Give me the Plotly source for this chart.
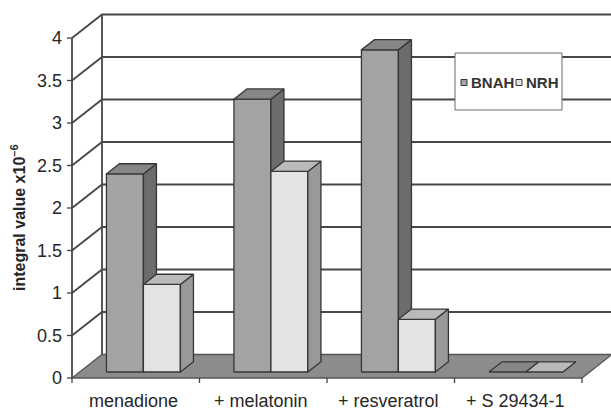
import plotly.graph_objects as go

# ---- data ----
categories = ["menadione", "+ melatonin", "+ resveratrol", "+ S 29434-1"]
series_names = ["BNAH", "NRH"]
bnah = [2.33, 3.21, 3.79, 0.0]
nrh = [1.03, 2.36, 0.62, 0.0]
y_ticks = [0, 0.5, 1, 1.5, 2, 2.5, 3, 3.5, 4]
y_tick_labels = ["0", "0.5", "1", "1.5", "2", "2.5", "3", "3.5", "4"]
y_title = "<b>integral value x10<sup>–6</sup></b>"

# ---- styling ----
W, H = 611, 414
FONT = "Liberation Sans, Arial, sans-serif"
TEXT = "#262626"
EDGE = "#363636"
GRID = "#474747"
FLOOR = "#8c8c8c"
# face colours per series: front, top, side
FACES = [
    ("#a3a3a3", "#868686", "#6c6c6c"),
    ("#e3e3e3", "#bababa", "#999999"),
]

# ---- oblique 3D projection ----
PX_X, PX_Y = 127.5, 85.0          # pixels per category / per value unit
ORIGIN_PX = (72.0, 378.0)         # front-left-bottom corner in pixels
DX = 30.0 / PX_X                  # x shift across the full depth
DY = 23.5 / PX_Y                  # y shift across the full depth
BAR_W = 0.29
D_FRONT, D_BACK = 0.255, 0.69
X0, X1 = -0.5, len(categories) - 0.5
Y_MAX = y_ticks[-1]


def proj(x, v, d):
    return x + d * DX, v + d * DY


def px_to_data(px, py):
    return (px - ORIGIN_PX[0]) / PX_X + X0, (ORIGIN_PX[1] - py) / PX_Y


x_lo, y_hi = px_to_data(0, 0)
x_hi, y_lo = px_to_data(W, H)

fig = go.Figure()


def poly(points, fill, color=EDGE, width=1.3):
    xs = [p[0] for p in points] + [points[0][0]]
    ys = [p[1] for p in points] + [points[0][1]]
    fig.add_trace(go.Scatter(
        x=xs, y=ys, mode="lines", fill="toself", fillcolor=fill,
        line=dict(color=color, width=width), hoverinfo="skip", showlegend=False))


def polyline(segments, color, width):
    xs, ys = [], []
    for seg in segments:
        for p in seg:
            xs.append(p[0])
            ys.append(p[1])
        xs.append(None)
        ys.append(None)
    fig.add_trace(go.Scatter(
        x=xs, y=ys, mode="lines", line=dict(color=color, width=width),
        hoverinfo="skip", showlegend=False))


# walls: gridlines run along the side wall and across the back wall
grid = []
for v in y_ticks[1:]:
    grid.append([proj(X0, v, 0), proj(X0, v, 1), proj(X1, v, 1)])
grid.append([proj(X0, 0, 0), proj(X0, Y_MAX, 0)])
grid.append([proj(X0, 0, 1), proj(X0, Y_MAX, 1)])
polyline(grid, GRID, 1.8)

# floor
poly([proj(X0, 0, 0), proj(X1, 0, 0), proj(X1, 0, 1), proj(X0, 0, 1)],
     FLOOR, color="#555555", width=1.3)

# bars, left to right so each right side is covered by its neighbour
for i in range(len(categories)):
    for s, vals in enumerate([bnah, nrh]):
        v = vals[i]
        xl = i - BAR_W + s * BAR_W
        xr = xl + BAR_W
        front, top, side = FACES[s]
        if v > 0:
            poly([proj(xl, 0, D_FRONT), proj(xr, 0, D_FRONT),
                  proj(xr, v, D_FRONT), proj(xl, v, D_FRONT)], front)
            poly([proj(xr, 0, D_FRONT), proj(xr, 0, D_BACK),
                  proj(xr, v, D_BACK), proj(xr, v, D_FRONT)], side)
            poly([proj(xl, v, D_FRONT), proj(xr, v, D_FRONT),
                  proj(xr, v, D_BACK), proj(xl, v, D_BACK)], top)
        else:
            poly([proj(xl, v, D_FRONT), proj(xr, v, D_FRONT),
                  proj(xr, v, D_BACK), proj(xl, v, D_BACK)], top)

# value-axis tick marks and category tick marks
tick_len_x = 5.0 / PX_X
tick_len_y = 5.0 / PX_Y
ticks = [[(X0 - tick_len_x, v), (X0, v)] for v in y_ticks]
ticks += [[(b, 0), (b, -tick_len_y)] for b in
          [X0 + k for k in range(len(categories) + 1)]]
polyline(ticks, "#444444", 1.3)

annotations = []
for v, lab in zip(y_ticks, y_tick_labels):
    annotations.append(dict(
        x=X0 - 8.0 / PX_X, y=v, xref="x", yref="y", text=lab,
        showarrow=False, xanchor="right", yanchor="middle",
        font=dict(family=FONT, size=18, color=TEXT)))
for i, cat in enumerate(categories):
    annotations.append(dict(
        x=i - 0.02, y=-23.0 / PX_Y, xref="x", yref="y", text=cat,
        showarrow=False, xanchor="center", yanchor="middle",
        font=dict(family=FONT, size=18, color=TEXT)))
annotations.append(dict(
    x=18.0 / W, y=1 - 218.0 / H, xref="paper", yref="paper", text=y_title,
    textangle=-90, showarrow=False, xanchor="center", yanchor="middle",
    font=dict(family=FONT, size=16, color=TEXT)))

# legend box
shapes = [dict(type="rect", xref="paper", yref="paper",
               x0=455 / W, x1=562 / W, y0=1 - 110 / H, y1=1 - 53 / H,
               fillcolor="white", line=dict(color="#6a6a6a", width=1))]
legend_x = [461, 516]
for s, name in enumerate(series_names):
    mx = legend_x[s]
    shapes.append(dict(type="rect", xref="paper", yref="paper",
                       x0=mx / W, x1=(mx + 6) / W,
                       y0=1 - 85.5 / H, y1=1 - 79.5 / H,
                       fillcolor=FACES[s][0], line=dict(color=EDGE, width=1)))
    annotations.append(dict(
        x=(mx + 8) / W, y=1 - 82.5 / H, xref="paper", yref="paper",
        text="<b>" + name + "</b>", showarrow=False, xanchor="left",
        yanchor="middle", font=dict(family=FONT, size=15, color="#333333")))

fig.update_layout(
    width=W, height=H, autosize=False,
    margin=dict(l=0, r=0, t=0, b=0),
    paper_bgcolor="white", plot_bgcolor="white",
    xaxis=dict(range=[x_lo, x_hi], visible=False, fixedrange=True),
    yaxis=dict(range=[y_lo, y_hi], visible=False, fixedrange=True),
    shapes=shapes, annotations=annotations, showlegend=False,
)

fig.write_html("out.html")
